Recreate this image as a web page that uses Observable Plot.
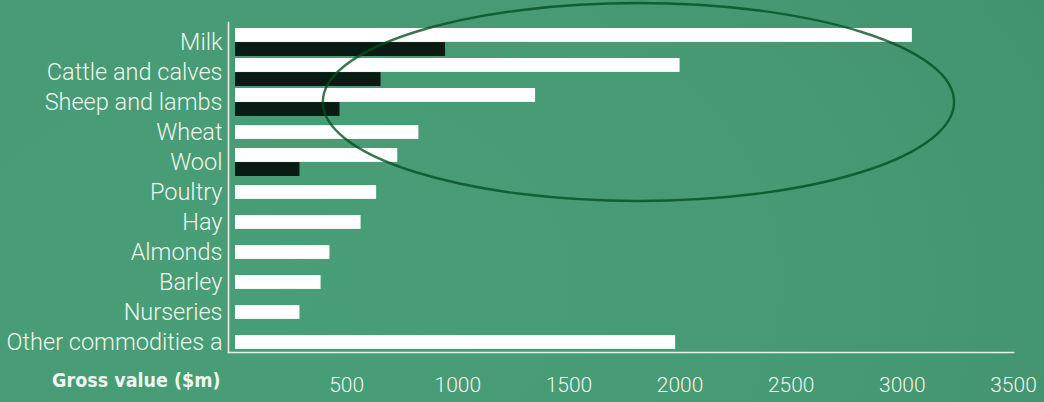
<!DOCTYPE html>
<html>
<head>
<meta charset="utf-8">
<script src="https://cdn.jsdelivr.net/npm/d3@7"></script>
<script src="https://cdn.jsdelivr.net/npm/@observablehq/plot@0.6"></script>
<style>
  html, body { margin: 0; padding: 0; }
  body {
    width: 1044px; height: 402px; overflow: hidden;
    background: radial-gradient(ellipse 900px 600px at 25% 70%, #489e76 0%, #469b74 55%, #41936e 100%);
  }
  #chart svg { display: block; background: transparent; }
</style>
</head>
<body>
<div id="chart"></div>
<script>
// ---- data ----
const categories = ["Milk", "Cattle and calves", "Sheep and lambs", "Wheat", "Wool", "Poultry", "Hay", "Almonds", "Barley", "Nurseries", "Other commodities a"];
const grossValues = [3045, 2000, 1350, 825, 730, 635, 565, 425, 385, 290, 1980];
const secondValues = [945, 655, 470, null, 290, null, null, null, null, null, null];
const xTicks = [500, 1000, 1500, 2000, 2500, 3000, 3500];
const xLabel = "Gross value ($m)";
// highlight ellipse annotation (centre category, centre value, half-width in $m, half-height in rows)
const ellipseCategory = ["Sheep and lambs"];
const ellipseValue = [1815, 1420];
const ellipseRows = [3.3];

// ---- table ----
const rows = categories.map((c, i) => ({cat: c, gross: grossValues[i], second: secondValues[i]}));
const paired = rows.filter(d => d.second != null);
const single = rows.filter(d => d.second == null);

const txt = "#eef5ef";
const font = "Roboto, 'Liberation Sans', sans-serif";

const ellipseMark = (index, scales, values, dimensions, context) => {
  const x = scales.x, y = scales.y;
  const step = y(categories[1]) - y(categories[0]);
  const cy = y(ellipseCategory[0]) + step / 2;
  const cx = x(ellipseValue[0]);
  const rx = x(ellipseValue[0] + ellipseValue[1]) - cx;
  const ry = ellipseRows[0] * step;
  const el = document.createElementNS("http://www.w3.org/2000/svg", "ellipse");
  el.setAttribute("cx", cx); el.setAttribute("cy", cy);
  el.setAttribute("rx", rx); el.setAttribute("ry", ry);
  el.setAttribute("fill", "none");
  el.setAttribute("stroke", "#00501f");
  el.setAttribute("stroke-opacity", 0.78);
  el.setAttribute("stroke-width", 2.4);
  return el;
};

const chart = Plot.plot({
  width: 1044,
  height: 402,
  marginLeft: 228,
  marginRight: 31,
  marginTop: 22,
  marginBottom: 50,
  style: {background: "transparent", color: txt, fontFamily: font, fontSize: "20px", fontWeight: 300},
  x: {domain: [0, 3500], range: [235, 1013], axis: null},
  y: {domain: categories, range: [26, 358], padding: 0, axis: null},
  marks: [
    Plot.barX(paired, {y: "cat", x: "gross", fill: "#ffffff", insetTop: 1, insetBottom: 15.1}),
    Plot.barX(single, {y: "cat", x: "gross", fill: "#ffffff", insetTop: 8.1, insetBottom: 8.1}),
    Plot.barX(paired, {y: "cat", x: "second", fill: "#0a1b14", insetTop: 15.1, insetBottom: 1}),
    ellipseMark,
    Plot.axisY({tickSize: 0, tickPadding: 6, label: null, fontSize: 23.5, fill: txt}),
    Plot.axisX({ticks: xTicks, tickFormat: d => String(d), tickSize: 0, tickPadding: 25, label: null, fontSize: 21, fill: txt}),
    Plot.frame({anchor: "left", stroke: "#e6efe8", strokeWidth: 1.6}),
    Plot.frame({anchor: "bottom", stroke: "#e6efe8", strokeWidth: 1.6}),
    Plot.text([xLabel], {text: d => d, frameAnchor: "bottom-left", textAnchor: "end", dx: -8, dy: 34,
      fontWeight: "bold", fontFamily: "'Liberation Sans Narrow', 'DejaVu Sans Condensed', sans-serif", fontSize: 19.5, fill: txt})
  ]
});
document.getElementById("chart").appendChild(chart);
</script>
</body>
</html>
